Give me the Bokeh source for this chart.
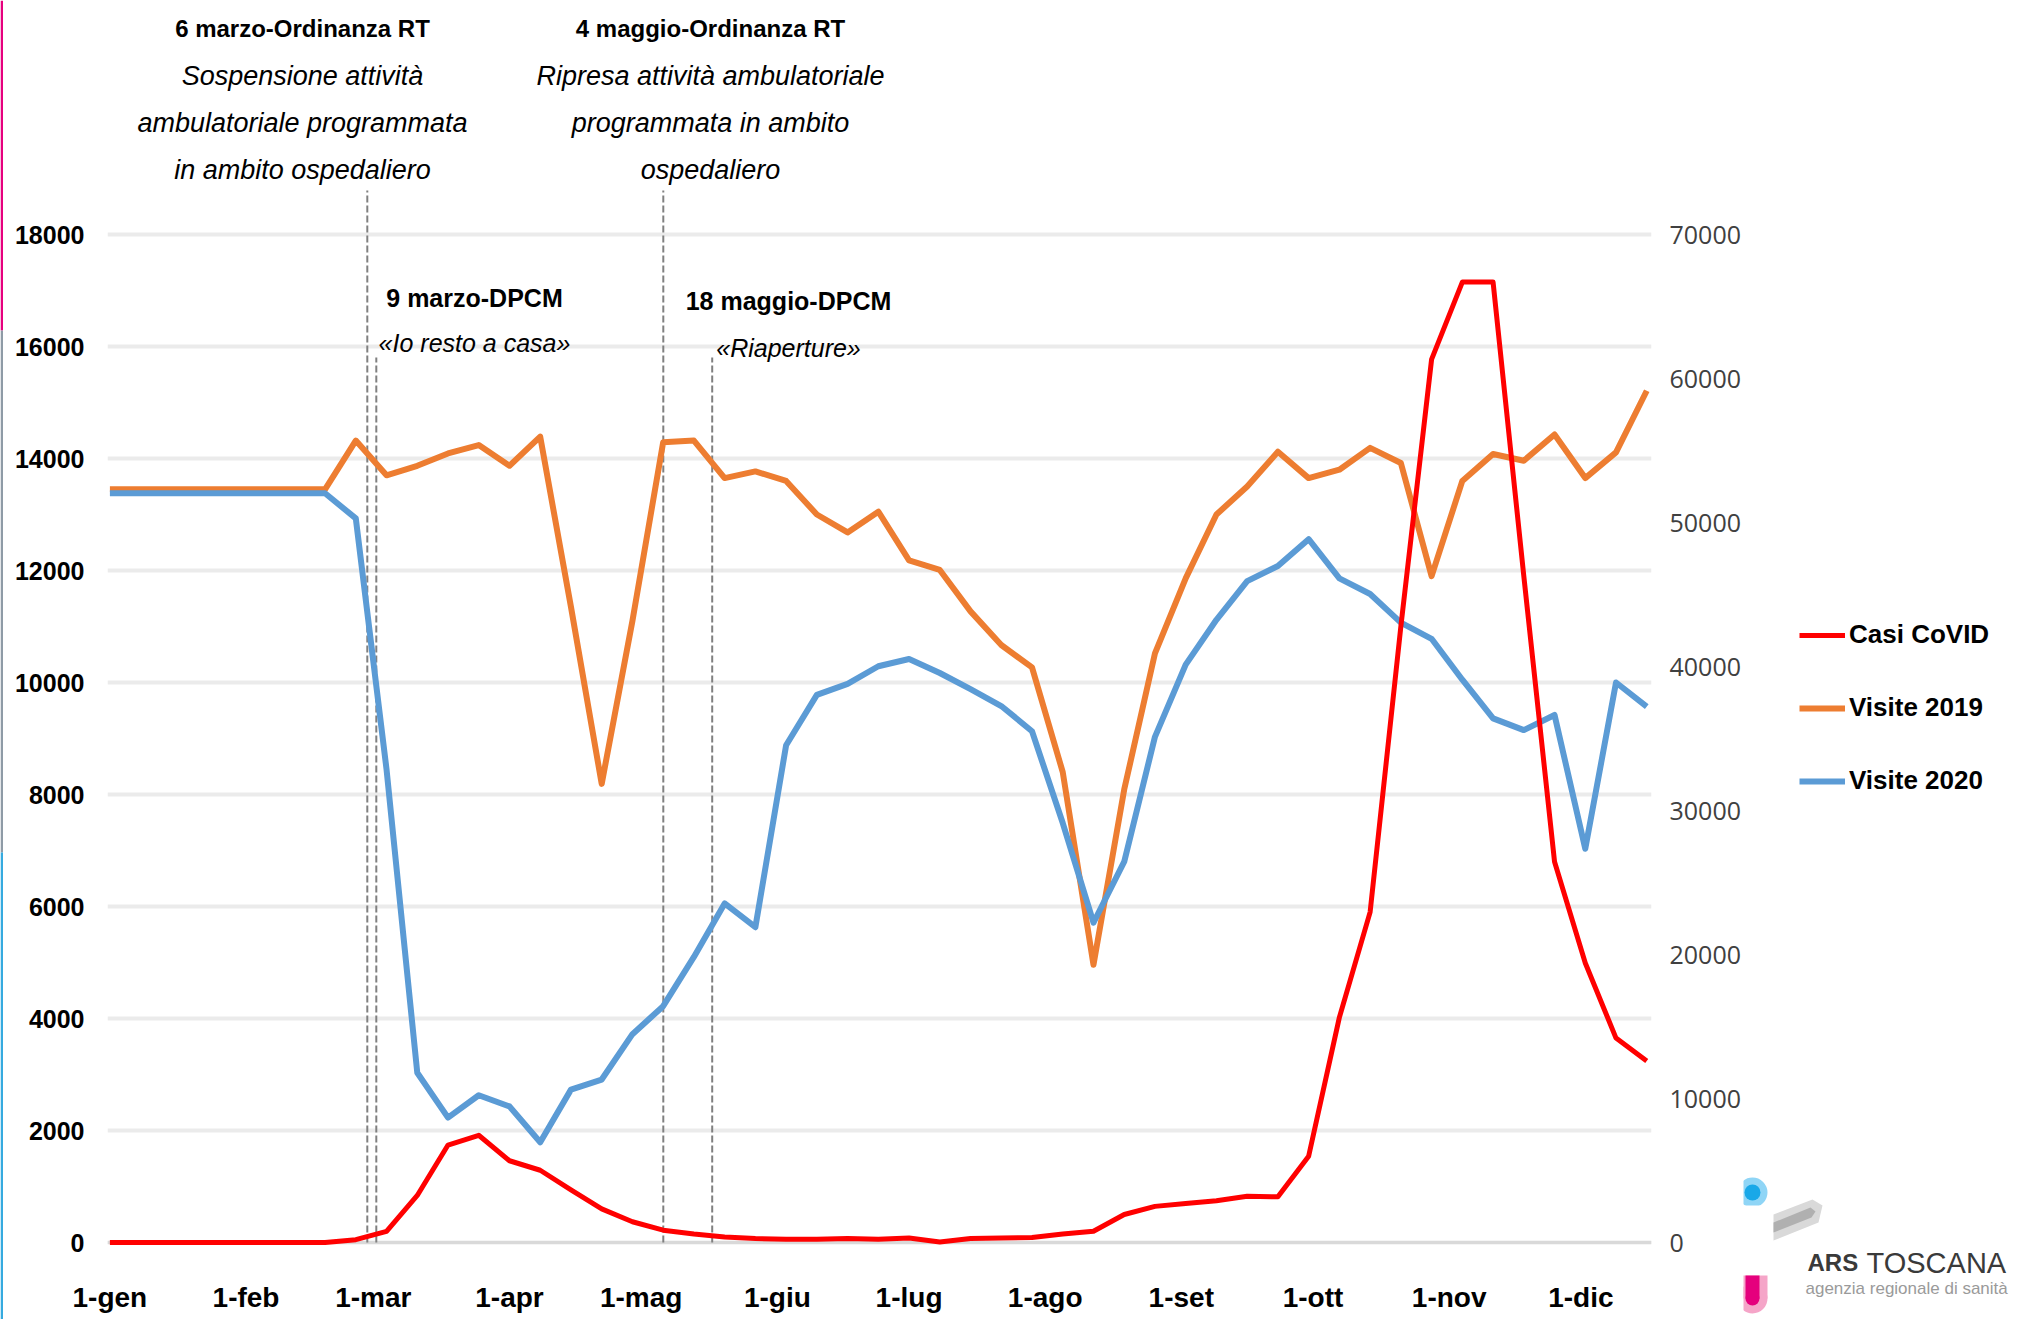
from bokeh.plotting import figure
from bokeh.layouts import row
from bokeh.models import (Range1d, LinearAxis, FixedTicker, Legend, LegendItem,
                          Label, Span)
from bokeh.core.properties import value
from bokeh.embed import file_html
from bokeh.resources import INLINE

# ---------------- data ----------------
week_day = [0, 7, 14, 21, 28, 35, 42, 49, 56, 63, 70, 77, 84, 91, 98, 105, 112,
            119, 126, 133, 140, 147, 154, 161, 168, 175, 182, 189, 196, 203, 210,
            217, 224, 231, 238, 245, 252, 259, 266, 273, 280, 287, 294, 301, 308,
            315, 322, 329, 336, 343, 350]

casi_covid = [0, 0, 0, 0, 0, 0, 0, 0, 50, 200, 840, 1740, 1915, 1460, 1290, 940,
              600, 370, 220, 150, 100, 70, 60, 60, 70, 60, 80, 10, 70, 80, 90, 150,
              200, 500, 645, 695, 745, 825, 815, 1540, 4020, 5900, 11000, 15770,
              17150, 17150, 11900, 6800, 4990, 3650, 3240]

visite_2019 = [13450, 13450, 13450, 13450, 13450, 13450, 13450, 13450, 14320, 13700,
               13870, 14090, 14240, 13870, 14390, 11350, 8190, 11100, 14290, 14320,
               13650, 13770, 13600, 13000, 12680, 13050, 12180, 12010, 11270, 10670,
               10270, 8400, 4960, 8090, 10520, 11860, 13000, 13500, 14120, 13650,
               13800, 14190, 13920, 11900, 13600, 14080, 13960, 14430, 13650, 14110,
               15210]

visite_2020 = [13380, 13380, 13380, 13380, 13380, 13380, 13380, 13380, 12930, 8450,
               3030, 2230, 2630, 2430, 1790, 2730, 2910, 3720, 4220, 5100, 6055, 5630,
               8880, 9780, 9975, 10290, 10420, 10170, 9880, 9580, 9130, 7490, 5710,
               6800, 9030, 10320, 11120, 11810, 12080, 12560, 11860, 11580, 11070,
               10780, 10050, 9360, 9150, 9420, 7030, 10000, 9570]

series_names = ["Casi CoVID", "Visite 2019", "Visite 2020"]

month_days = [0, 31, 60, 91, 121, 152, 182, 213, 244, 274, 305, 335]
month_labels = ["1-gen", "1-feb", "1-mar", "1-apr", "1-mag", "1-giu", "1-lug",
                "1-ago", "1-set", "1-ott", "1-nov", "1-dic"]
left_ticks = [0, 2000, 4000, 6000, 8000, 10000, 12000, 14000, 16000, 18000]
right_ticks = [0, 10000, 20000, 30000, 40000, 50000, 60000, 70000]

# ---------------- styling ----------------
C_CASI = "#FF0000"
C_2019 = "#ED7D31"
C_2020 = "#5B9BD5"
FONT = "Liberation Sans"

# reference pixel -> data helpers (used only to place annotations / ranges)
def dx(px):
    return (px - 109.4) / 4.391

def dy(py):
    return (1242.0 - py) / 0.056

RIGHT_FACTOR = 70000 / 18000
H = 1319

# ---------------- main chart ----------------
p = figure(width=1740, height=H, output_backend="svg", toolbar_location=None,
           x_range=Range1d(dx(107), dx(1651)), y_range=Range1d(dy(1246), dy(0)),
           min_border_left=104, min_border_right=92, min_border_top=0,
           min_border_bottom=73, frame_align=False)
p.outline_line_color = None
p.extra_y_ranges = {"right": Range1d(dy(1246) * RIGHT_FACTOR, dy(0) * RIGHT_FACTOR)}

p.xgrid.grid_line_color = None
p.ygrid.ticker = FixedTicker(ticks=left_ticks)
p.ygrid.grid_line_color = "#ebebeb"
p.ygrid.grid_line_width = 4
p.add_layout(Span(location=0, dimension="width", line_color="#d9d9d9",
                  line_width=3, level="underlay"))

ax = p.xaxis[0]
ax.ticker = FixedTicker(ticks=month_days)
ax.major_label_overrides = {d: l for d, l in zip(month_days, month_labels)}
ax.axis_line_color = None
ax.major_tick_line_color = None
ax.minor_tick_line_color = None
ax.major_tick_out = 0
ax.minor_tick_out = 0
ax.major_label_standoff = 35
ax.major_label_text_font = FONT
ax.major_label_text_font_style = "bold"
ax.major_label_text_font_size = "28px"
ax.major_label_text_color = "black"

ay = p.yaxis[0]
ay.ticker = FixedTicker(ticks=left_ticks)
ay.axis_line_color = None
ay.major_tick_line_color = None
ay.minor_tick_line_color = None
ay.major_tick_out = 0
ay.minor_tick_out = 0
ay.major_label_standoff = 23
ay.major_label_text_font = FONT
ay.major_label_text_font_style = "bold"
ay.major_label_text_font_size = "25px"
ay.major_label_text_color = "black"

ry = LinearAxis(y_range_name="right", ticker=FixedTicker(ticks=right_ticks))
ry.axis_line_color = None
ry.major_tick_line_color = None
ry.minor_tick_line_color = None
ry.major_tick_out = 0
ry.minor_tick_out = 0
ry.major_label_standoff = 18
ry.major_label_text_font = "Open Sans"
ry.major_label_text_font_size = "25px"
ry.major_label_text_color = "#404040"
p.add_layout(ry, "right")

# event lines
event_days = [dx(366.8), dx(375.8), dx(662.8), dx(711.7)]
event_tops = [dy(190), dy(357), dy(190), dy(357)]
p.segment(x0=event_days, y0=[0, 0, 0, 0], x1=event_days, y1=event_tops,
          line_color="#808080", line_width=2, line_dash="7 3")

# series
r19 = p.line(week_day, visite_2019, line_color=C_2019, line_width=6, line_join="round")
r20 = p.line(week_day, visite_2020, line_color=C_2020, line_width=6, line_join="round")
rcv = p.line(week_day, casi_covid, line_color=C_CASI, line_width=5, line_join="round")

def add_text(px, py, txt, bold, size):
    p.add_layout(Label(x=dx(px), y=dy(py), text=txt, text_align="center",
                       text_baseline="middle", text_font=FONT,
                       text_font_style="bold" if bold else "italic",
                       text_font_size=size, text_color="black"))

add_text(302, 28, "6 marzo-Ordinanza RT", True, "24px")
add_text(302, 75, "Sospensione attività", False, "27px")
add_text(302, 122, "ambulatoriale programmata", False, "27px")
add_text(302, 169, "in ambito ospedaliero", False, "27px")
add_text(710, 28, "4 maggio-Ordinanza RT", True, "24px")
add_text(710, 75, "Ripresa attività ambulatoriale", False, "27px")
add_text(710, 122, "programmata in ambito", False, "27px")
add_text(710, 169, "ospedaliero", False, "27px")
add_text(474, 297, "9 marzo-DPCM", True, "25px")
add_text(474, 342, "«Io resto a casa»", False, "25px")
add_text(788, 300, "18 maggio-DPCM", True, "25px")
add_text(788, 347, "«Riaperture»", False, "25px")

# ---------------- left edge stripe ----------------
p0 = figure(width=3, height=H, output_backend="svg", toolbar_location=None,
            x_range=Range1d(0, 3), y_range=Range1d(1319, 0),
            x_axis_location=None, y_axis_location=None, min_border=0,
            frame_align=False)
p0.grid.visible = False
p0.outline_line_color = None
p0.quad(left=[0, 0, 0], right=[3, 3, 3], top=[0, 330, 852],
        bottom=[330, 852, 1319], fill_color=["#e6007e", "#8e9ba6", "#35aadf"],
        line_color=None)

# ---------------- right side: legend + logo ----------------
p2 = figure(width=275, height=H, output_backend="svg", toolbar_location=None,
            x_range=Range1d(1743, 2018), y_range=Range1d(1319, 0),
            x_axis_location=None, y_axis_location=None, min_border=0,
            frame_align=False)
p2.grid.visible = False
p2.outline_line_color = None

# legend swatches (kept outside the visible range of this panel)
k_cv = p2.line(x=[0, 1], y=[0, 1], line_color=C_CASI, line_width=5)
k_19 = p2.line(x=[0, 1], y=[0, 1], line_color=C_2019, line_width=6)
k_20 = p2.line(x=[0, 1], y=[0, 1], line_color=C_2020, line_width=6)
legend = Legend(items=[LegendItem(label=series_names[0], renderers=[k_cv]),
                       LegendItem(label=series_names[1], renderers=[k_19]),
                       LegendItem(label=series_names[2], renderers=[k_20])],
                location=(56, 523), orientation="vertical",
                glyph_width=46, glyph_height=30, label_height=30, spacing=42,
                padding=10, margin=0, label_standoff=4,
                border_line_color=None, background_fill_alpha=0,
                label_text_font=FONT, label_text_font_style="bold",
                label_text_font_size="26px", label_text_color="black")
p2.add_layout(legend, "center")

# logo
p2.circle(x=[1752], y=[1192], radius=15, fill_color="#8fd5f6", line_color=None)
p2.circle(x=[1752], y=[1192], radius=8, fill_color="#19a8e8", line_color=None)
p2.patch(x=[1773, 1812, 1822, 1818, 1773], y=[1214, 1199, 1205, 1222, 1240],
         fill_color="#d9d9d9", line_color=None)
p2.patch(x=[1773, 1810, 1815, 1811, 1773], y=[1222, 1207, 1211, 1217, 1232],
         fill_color="#b0b0b0", line_color=None)
p2.quad(left=[1743], right=[1772], top=[1205], bottom=[1275], fill_color="white",
        line_color=None)
p2.quad(left=[1737], right=[1767], top=[1275], bottom=[1298], fill_color="#f5a5c8",
        line_color=None)
p2.circle(x=[1752], y=[1298], radius=15, fill_color="#f5a5c8", line_color=None)
p2.quad(left=[1745], right=[1759], top=[1275], bottom=[1298], fill_color="#e5007d",
        line_color=None)
p2.circle(x=[1752], y=[1298], radius=7, fill_color="#e5007d", line_color=None)
p2.text(x=[1807], y=[1262], text=["ARS"], text_font=value(FONT),
        text_font_style="bold", text_font_size="24px", text_color="#3a3a3a",
        text_baseline="middle")
p2.text(x=[1866], y=[1262], text=["TOSCANA"], text_font=value(FONT),
        text_font_size="29px", text_color="#3a3a3a", text_baseline="middle")
p2.text(x=[1805], y=[1288], text=["agenzia regionale di sanità"],
        text_font=value(FONT), text_font_size="17px", text_color="#9a9a9a",
        text_baseline="middle")

layout = row(p0, p, p2)
open("out.html", "w").write(file_html(layout, INLINE))
